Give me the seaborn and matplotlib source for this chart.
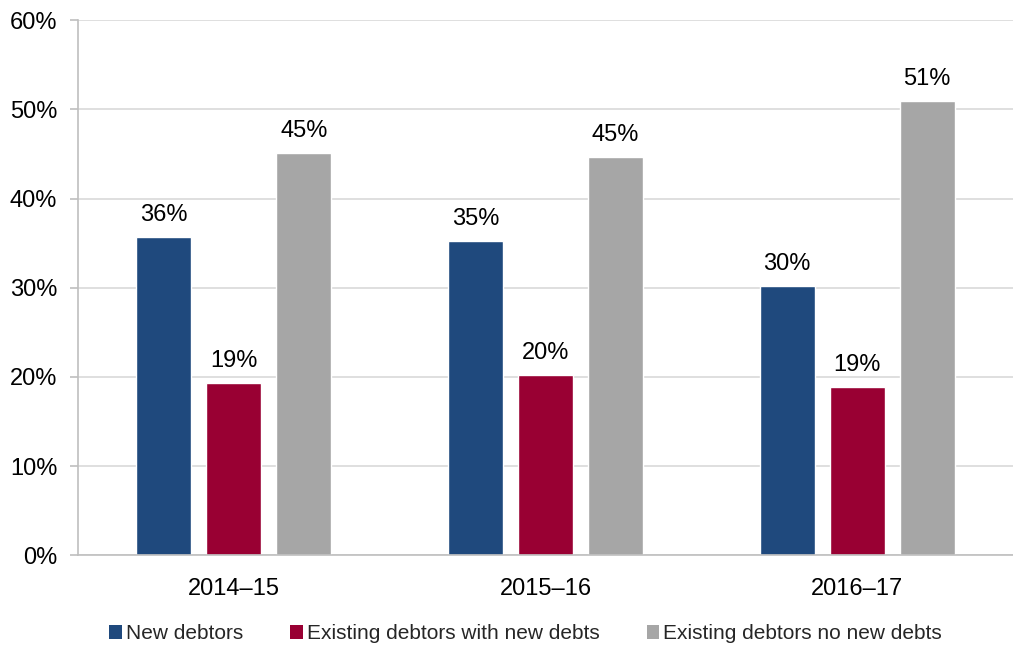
import matplotlib
matplotlib.use("Agg")
import matplotlib.pyplot as plt
import seaborn as sns
import pandas as pd
from matplotlib.patches import Patch

years = ["2014–15", "2015–16", "2016–17"]
series = ["New debtors", "Existing debtors with new debts", "Existing debtors no new debts"]
new_debtors = [35.7, 35.2, 30.2]
existing_new = [19.3, 20.2, 18.9]
existing_no_new = [45.1, 44.6, 50.9]
colors = ["#1F497D", "#990033", "#A6A6A6"]

rows = []
for s, vals in zip(series, [new_debtors, existing_new, existing_no_new]):
    for y, v in zip(years, vals):
        rows.append({"year": y, "series": s, "value": v})
df = pd.DataFrame(rows)

sns.set_theme(style="white")
plt.rcParams['font.family'] = ['Liberation Sans', 'DejaVu Sans']

FS = 17
fig = plt.figure(figsize=(10.13, 6.48), dpi=100)
ax = fig.add_axes([0.077, 0.143, 0.923, 0.826])

sns.barplot(data=df, x="year", y="value", hue="series", order=years, hue_order=series,
            palette=colors, width=0.674, gap=0.214, ax=ax, legend=False,
            saturation=1, errorbar=None)

for cont in ax.containers:
    labels = [f"{round(b.get_height()):.0f}%" for b in cont]
    ax.bar_label(cont, labels=labels, padding=8, fontsize=FS, color="#000000")

ax.set_ylim(0, 60)
ax.set_xlim(-0.5, 2.5)
ax.set_yticks(range(0, 61, 10))
ax.set_yticklabels([f"{t}%" for t in range(0, 61, 10)])
ax.yaxis.grid(True, color="#D9D9D9", linewidth=1.2)
ax.set_axisbelow(True)
ax.set_xlabel("")
ax.set_ylabel("")
for sp in ["top", "right"]:
    ax.spines[sp].set_visible(False)
for sp in ["left", "bottom"]:
    ax.spines[sp].set_color("#BFBFBF")
    ax.spines[sp].set_linewidth(1.2)
ax.tick_params(axis="y", which="both", left=True, length=6, width=1.2, color="#BFBFBF",
               labelsize=FS, pad=9, labelcolor="#000000")
ax.tick_params(axis="x", bottom=False, labelsize=FS, pad=10, labelcolor="#000000")

handles = [Patch(facecolor=c, edgecolor="none") for c in colors]
fig.legend(handles, series, loc="center", bbox_to_anchor=(0.519, 0.022), ncol=3,
           frameon=False, fontsize=15, handlelength=0.6, handleheight=0.6,
           handletextpad=0.2, columnspacing=2.25)

fig.savefig("out.png", dpi=100)
